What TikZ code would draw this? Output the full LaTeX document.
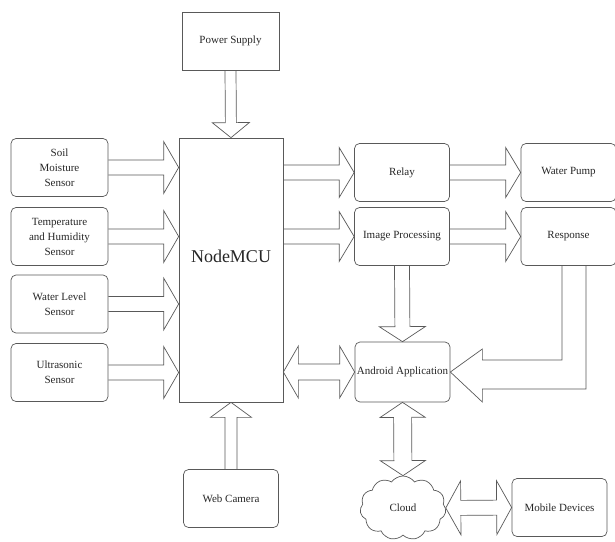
\documentclass[tikz,border=0pt]{standalone}
\usepackage{fontspec}
\setmainfont{Liberation Serif}
\usetikzlibrary{calc,shapes.symbols}

\tikzset{
  unit/.style={draw=black!65, line width=0.7pt, rounded corners=5pt, minimum width=95pt, minimum height=58pt,
    align=center, font=\fontsize{11}{15}\selectfont, text=black!85, inner sep=1pt},
  plainunit/.style={unit, rounded corners=0pt},
  blockline/.style={draw=black!65, line width=0.7pt, line join=miter},
}

% block arrow: shaft half width, head half width, from, to
\newcommand{\fatarrow}[4]{%
  \coordinate (fa) at ($(#4)!15pt!(#3)$);
  \draw[blockline] ($(#3)!#1!90:(#4)$) -- ($(fa)!#1!-90:(#3)$) -- ($(fa)!#2!-90:(#3)$) -- (#4)
    -- ($(fa)!#2!90:(#3)$) -- ($(fa)!#1!90:(#3)$) -- ($(#3)!#1!-90:(#4)$);
}
% block arrow with two heads
\newcommand{\fatdarrow}[4]{%
  \coordinate (fa) at ($(#4)!15pt!(#3)$);
  \coordinate (fb) at ($(#3)!15pt!(#4)$);
  \draw[blockline] (#3) -- ($(fb)!#2!90:(#4)$) -- ($(fb)!#1!90:(#4)$) -- ($(fa)!#1!-90:(#3)$)
    -- ($(fa)!#2!-90:(#3)$) -- (#4) -- ($(fa)!#2!90:(#3)$) -- ($(fa)!#1!90:(#3)$)
    -- ($(fb)!#1!-90:(#4)$) -- ($(fb)!#2!-90:(#4)$) -- cycle;
}

\begin{document}
\begin{tikzpicture}[x=1pt,y=-1pt]
  \useasboundingbox (0,0) rectangle (615,541);

  % boxes
  \node[plainunit, minimum width=97pt] (power) at (230.5,41) {Power Supply};
  \node[plainunit, minimum width=104pt, minimum height=264pt,
    label={[font=\fontsize{18}{20}\selectfont, text=black!85, yshift=14pt]center:NodeMCU}] (mcu) at (231,270) {};

  \node[unit, minimum width=97pt] (soil) at (59.5,167.5) {Soil\\Moisture\\Sensor};
  \node[unit, minimum width=97pt] (temp) at (59.5,236.5) {Temperature\\and Humidity\\Sensor};
  \node[unit, minimum width=97pt] (level) at (59.5,304) {Water Level\\Sensor};
  \node[unit, minimum width=97pt] (ultra) at (59.5,372.5) {Ultrasonic\\Sensor};

  \node[unit] (relay) at (402,172.5) {Relay};
  \node[unit] (imgproc) at (402,236.5) {Image Processing};
  \node[unit] (pump) at (568.5,172.5) {Water Pump};
  \node[unit] (resp) at (568.5,236.5) {Response};

  \node[unit, minimum height=60pt, inner sep=0pt] (android) at (402.5,372) {Android Application};
  \node[unit] (webcam) at (231,498.5) {Web Camera};
  \node[cloud, draw=black!65, line width=0.7pt, cloud puffs=11, cloud puff arc=110, aspect=1.35,
    minimum width=86pt, minimum height=64pt, font=\fontsize{11}{15}\selectfont, text=black!85] (cloud) at (403,508) {Cloud};
  \node[unit] (mobile) at (559.5,507.5) {Mobile Devices};

  % sensors into NodeMCU
  \foreach \s in {soil,temp,level,ultra}
  {
    \coordinate (\s-in) at (\s.east -| mcu.west);
    \fatarrow{7.5pt}{26pt}{\s.east}{\s-in}
  }

  \fatarrow{5.5pt}{18.5pt}{power.south}{mcu.north}
  \fatarrow{6pt}{20.5pt}{webcam.north}{mcu.south}

  \coordinate (relay-out) at (relay.west -| mcu.east);
  \coordinate (img-out) at (imgproc.west -| mcu.east);
  \fatarrow{7.5pt}{25pt}{relay-out}{relay.west}
  \fatarrow{7.5pt}{25pt}{img-out}{imgproc.west}
  \fatarrow{7.5pt}{25pt}{relay.east}{pump.west}
  \fatarrow{7.5pt}{25pt}{imgproc.east}{resp.west}
  \fatarrow{7.5pt}{23pt}{imgproc.south}{android.north}

  % Response back to the app
  \draw[blockline] ($(resp.south)+(-6.5,0)$) |- ($(android.east)+(32,-12)$) -- ($(android.east)+(32,-23)$)
    -- (android.east) -- ($(android.east)+(32,30)$) -- ($(android.east)+(32,17)$) -| ($(resp.south)+(17.5,0)$);

  \coordinate (mcu-app) at (android.west -| mcu.east);
  \fatdarrow{8pt}{26pt}{mcu-app}{android.west}
  \fatdarrow{9pt}{22.5pt}{android.south}{cloud.north}
  \fatdarrow{7.5pt}{27pt}{cloud.east}{mobile.west}
\end{tikzpicture}
\end{document}
